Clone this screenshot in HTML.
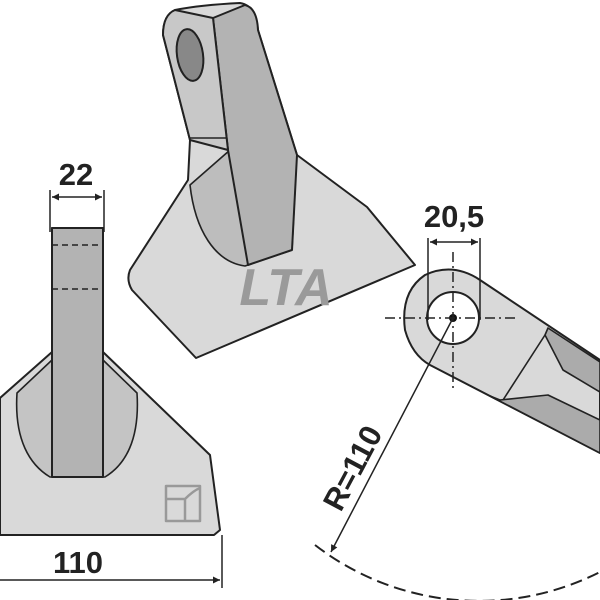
<!DOCTYPE html>
<html><head><style>html,body{margin:0;padding:0;background:#fff}svg{display:block}</style></head>
<body>
<svg width="600" height="600" viewBox="0 0 600 600" xmlns="http://www.w3.org/2000/svg" font-family="Liberation Sans, sans-serif">
<defs>
<marker id="a" viewBox="0 0 10 10" refX="10" refY="5" markerWidth="9" markerHeight="7" orient="auto-start-reverse" markerUnits="userSpaceOnUse"><path d="M0,0L10,5L0,10z" fill="#222"/></marker>
</defs>
<g stroke="#222" stroke-width="2" stroke-linejoin="round">
<!-- LEFT PIECE -->
<path d="M0,398 L52,352 L52,228 L103,228 L103,352 L210,455 L220,530 L214,535 L0,535 Z" fill="#d9d9d9"/>
<path d="M17,393 C14,440 30,465 50,477 L105,477 C125,465 140,440 137,393 L103,360 L103,352 L52,352 L52,360 Z" fill="#c4c4c4" stroke-width="1.6"/>
<rect x="52" y="228" width="51" height="249" fill="#b3b3b3"/>
<line x1="52" y1="245" x2="103" y2="245" stroke-dasharray="6,4" stroke-width="1.5"/>
<line x1="52" y1="289" x2="103" y2="289" stroke-dasharray="6,4" stroke-width="1.5"/>
<rect x="166" y="486" width="34" height="35" fill="none" stroke="#999" stroke-width="2.5"/>
<path d="M166,499 L185,499 L185,521 M185,499 C190,494 195,490 200,488" fill="none" stroke="#999" stroke-width="2.5"/>
<!-- dims left -->
<line x1="50" y1="190" x2="50" y2="232" stroke-width="1.5"/>
<line x1="104" y1="190" x2="104" y2="232" stroke-width="1.5"/>
<line x1="52" y1="197" x2="102" y2="197" stroke-width="1.5" marker-start="url(#a)" marker-end="url(#a)"/>
<line x1="222" y1="535" x2="222" y2="588" stroke-width="1.5"/>
<line x1="0" y1="580" x2="220" y2="580" stroke-width="1.5" marker-end="url(#a)"/>
<!-- TOP PIECE -->
<path d="M175,10 Q200,5 240,3 Q255,5 258,30 L297,155 L367,207 L415,265 L196,358 L132,290 Q126,280 130,270 L188,180 L190,140 L163,35 Q163,15 175,10 Z" fill="#d9d9d9"/>
<path d="M190,185 C195,230 215,262 245,266 L292,250 L296,170 L230,150 Z" fill="#bdbdbd" stroke-width="1.6"/>
<path d="M213,18 L245,5 Q257,8 258,30 L297,155 L292,250 L248,265 L228,150 Z" fill="#b3b3b3"/>
<path d="M163,35 Q163,15 175,10 L213,18 L228,150 L190,140 Z" fill="#c8c8c8"/>
<ellipse cx="190" cy="55" rx="13" ry="26" transform="rotate(-8 190 55)" fill="#888"/>
<line x1="190" y1="138" x2="226" y2="138" stroke-width="1.6"/>
<!-- RIGHT PIECE -->
<path d="M600,360 L480,280 Q453,262 425,275 Q400,292 405,330 Q412,355 430,365 L600,453 Z" fill="#d9d9d9"/>
<path d="M545,335 L563,370 L600,392 L600,362 L548,328 Z" fill="#ababab" stroke-width="1.6"/>
<path d="M500,400 L548,395 L600,420 L600,453 L490,396 Z" fill="#ababab" stroke-width="1.6"/>
<line x1="545" y1="335" x2="503" y2="400" stroke-width="1.6"/>
<circle cx="453" cy="318" r="26" fill="#fff"/>
<circle cx="453" cy="318" r="4" fill="#111" stroke="none"/>
<g stroke-width="1.5" stroke-dasharray="10,4,2,4">
<line x1="385" y1="318" x2="515" y2="318"/>
<line x1="453" y1="252" x2="453" y2="388"/>
</g>
<line x1="428" y1="238" x2="428" y2="320" stroke-width="1.5"/>
<line x1="480" y1="238" x2="480" y2="320" stroke-width="1.5"/>
<line x1="430" y1="242" x2="478" y2="242" stroke-width="1.5" marker-start="url(#a)" marker-end="url(#a)"/>
<line x1="453" y1="318" x2="331" y2="552" stroke-width="1.5" marker-end="url(#a)"/>
<path d="M315,545 A268,268 0 0 0 600,572" fill="none" stroke-width="2" stroke-dasharray="12,6"/>
</g>
<g font-weight="bold" fill="#222" font-size="31" text-anchor="middle">
<text x="76" y="185">22</text>
<text x="78" y="573">110</text>
<text x="454" y="227">20,5</text>
<text x="0" y="0" transform="translate(362,473) rotate(-62)">R=110</text>
</g>
<text x="286" y="305" font-size="52" font-weight="bold" font-style="italic" fill="#9a9a9a" text-anchor="middle">LTA</text>
</svg>
</body></html>
